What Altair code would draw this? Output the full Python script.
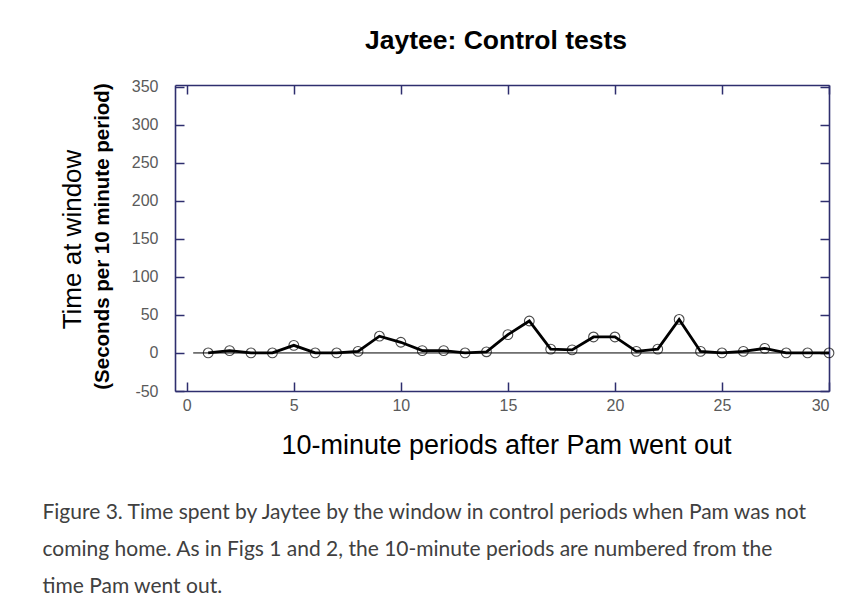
import altair as alt
import pandas as pd

periods = list(range(1, 31))
seconds = [0, 3, 0, 0, 10, 0, 0, 2, 22, 14, 3, 3, 0, 1.5, 24, 42, 5, 4, 21, 21,
           2, 5, 44, 2, 0, 2, 6, 0, 0, 0]
x_ticks = [0, 5, 10, 15, 20, 25, 30]
y_ticks = [-50, 0, 50, 100, 150, 200, 250, 300, 350]
zero_start = [0.3]
zero_end = [30]
zero_level = [0]

title_text = "Jaytee: Control tests"
x_title = "10-minute periods after Pam went out"
y_title_1 = "Time at window"
y_title_2 = "(Seconds per 10 minute period)"
caption_lines = [
    "Figure 3. Time spent by Jaytee by the window in control periods when Pam was not",
    "coming home. As in Figs 1 and 2, the 10-minute periods are numbered from the",
    "time Pam went out.",
]

df = pd.DataFrame({"period": periods, "seconds": seconds})
zero_df = pd.DataFrame({"start": zero_start, "end": zero_end, "level": zero_level})

FRAME = "#2e2e6e"
LABEL = "#5a5a5a"
FONT = "Liberation Sans"

xs = alt.Scale(domain=[-0.55, 30], nice=False, zero=False)
ys = alt.Scale(domain=[-50, 352], nice=False, zero=False)

tick_common = dict(labels=False, domain=False, ticks=True, tickSize=9, tickWidth=1.5,
                   tickColor=FRAME, grid=False, offset=-9)
frame_common = dict(labels=False, ticks=False, grid=False, domain=True,
                    domainColor=FRAME, domainWidth=1.6, title=None)

# Layer 1: line, with label axes (bottom/left frame as domain)
line = alt.Chart(df).mark_line(color="black", strokeWidth=2.8).encode(
    x=alt.X("period:Q", scale=xs, axis=alt.Axis(
        orient="bottom", values=x_ticks, ticks=False, grid=False,
        domain=True, domainColor=FRAME, domainWidth=1.6,
        labelPadding=6, labelFont=FONT, labelFontSize=16, labelColor=LABEL,
        labelExpr="'' + datum.value",
        title=x_title, titleFont=FONT, titleFontSize=27, titleFontWeight="normal",
        titleColor="black", titleX=331, titleY=54, titleBaseline="middle")),
    y=alt.Y("seconds:Q", scale=ys, axis=alt.Axis(
        orient="left", values=y_ticks, ticks=False, grid=False,
        domain=True, domainColor=FRAME, domainWidth=1.6,
        labelPadding=17, labelFont=FONT, labelFontSize=16, labelColor=LABEL,
        labelExpr="'' + datum.value",
        title=y_title_2, titleFont=FONT, titleFontSize=20.5, titleFontWeight="bold",
        titleColor="black", titleX=-73, titleY=151, titleBaseline="middle",
        titleAngle=270)),
)

# Layer 2: points, with inward ticks on bottom/left, captions
points = alt.Chart(df).mark_point(shape="circle", filled=False, color="black",
                                  size=95, strokeWidth=1.1).encode(
    x=alt.X("period:Q", scale=xs, axis=alt.Axis(
        orient="bottom", values=x_ticks, **tick_common,
        title=caption_lines, titleFont="Lato", titleFontSize=21,
        titleFontWeight="normal", titleColor="#404040", titleAlign="left",
        titleAnchor="start", titleBaseline="alphabetic", titleLineHeight=37,
        titleX=-133, titleY=136)),
    y=alt.Y("seconds:Q", scale=ys, axis=alt.Axis(
        orient="left", values=y_ticks, **tick_common,
        title=y_title_1, titleFont=FONT, titleFontSize=26, titleFontWeight="normal",
        titleColor="black", titleX=-112, titleY=154, titleBaseline="middle",
        titleAngle=270)),
)

# Layer 3: zero line, with inward ticks on top/right
zero = alt.Chart(zero_df).mark_rule(color="black", strokeWidth=1).encode(
    x=alt.X("start:Q", scale=xs, axis=alt.Axis(
        orient="top", values=x_ticks, **tick_common, title=None)),
    x2="end:Q",
    y=alt.Y("level:Q", scale=ys, axis=alt.Axis(
        orient="right", values=y_ticks, **tick_common, title=None)),
)

# Layer 4: invisible copy of the points carrying the top/right frame lines
frame = alt.Chart(df).mark_point(opacity=0).encode(
    x=alt.X("period:Q", scale=xs, axis=alt.Axis(orient="top", **frame_common)),
    y=alt.Y("seconds:Q", scale=ys, axis=alt.Axis(orient="right", **frame_common)),
)

chart = alt.layer(zero, frame, line, points).resolve_axis(
    x="independent", y="independent"
).properties(
    width=654, height=306,
    padding={"left": 34, "top": 20, "right": 5, "bottom": 5},
    title=alt.TitleParams(title_text, font=FONT, fontSize=26.5, fontWeight="bold",
                          color="black", baseline="alphabetic", offset=3, dx=-6),
).configure(
    background="white"
).configure_view(
    stroke=None
).configure_axis(
    labelFontSize=16, labelFont=FONT, labelColor=LABEL
)

chart.save("out.html", embed_options={"renderer": "svg", "actions": False})
